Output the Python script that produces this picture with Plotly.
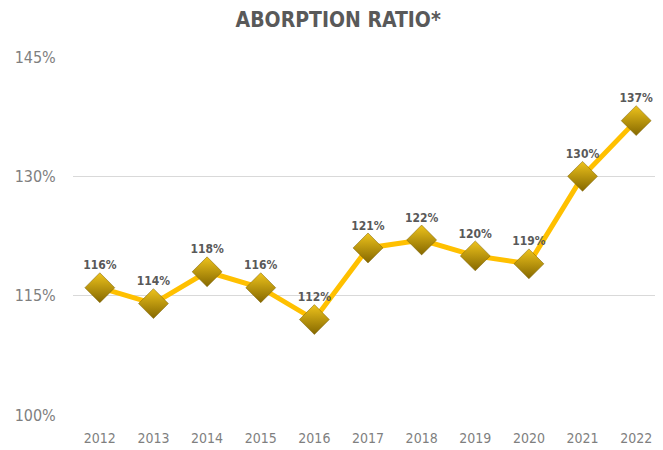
import plotly.graph_objects as go

years = ["2012", "2013", "2014", "2015", "2016", "2017", "2018", "2019", "2020", "2021", "2022"]
ratio = [116, 114, 118, 116, 112, 121, 122, 120, 119, 130, 137]
labels = [f"{v}%" for v in ratio]
y_ticks = [100, 115, 130, 145]
y_tick_text = ["100%", "115%", "130%", "145%"]

font_family = "Liberation Sans Narrow, DejaVu Sans Condensed, Liberation Sans, Arial, sans-serif"

fig = go.Figure()
fig.add_trace(go.Scatter(
    x=years, y=ratio, mode="lines+markers+text",
    line=dict(color="#FFC000", width=5),
    marker=dict(symbol="diamond", size=23, color="#EEC31C",
                gradient=dict(type="vertical", color="#856800"),
                line=dict(color="#7A5F00", width=0.5)),
    text=labels, textposition="top center",
    textfont=dict(family=font_family, size=12, color="#595959", weight="bold"),
    cliponaxis=False, hoverinfo="skip",
))

fig.update_layout(
    width=663, height=450,
    margin=dict(l=65, r=8, t=49, b=43, autoexpand=False),
    paper_bgcolor="white", plot_bgcolor="white",
    showlegend=False,
    title=dict(text="<b>ABORPTION RATIO*</b>", x=0.498, xanchor="center", y=0.975, yanchor="middle",
               font=dict(family=font_family, size=21, color="#595959")),
    xaxis=dict(type="category", range=[-0.5, 10.5], showgrid=False, showline=False, automargin=False,
               zeroline=False, ticks="outside", ticklen=10, tickcolor="white",
               tickfont=dict(family=font_family, size=14, color="#7F7F7F")),
    yaxis=dict(range=[100, 145], tickvals=y_ticks, ticktext=y_tick_text, automargin=False,
               showgrid=True, gridcolor="#D9D9D9", gridwidth=1, zeroline=False,
               showline=False, ticks="outside", ticklen=13, tickcolor="white",
               tickfont=dict(family=font_family, size=16, color="#7F7F7F")),
)

fig.write_html("out.html")
